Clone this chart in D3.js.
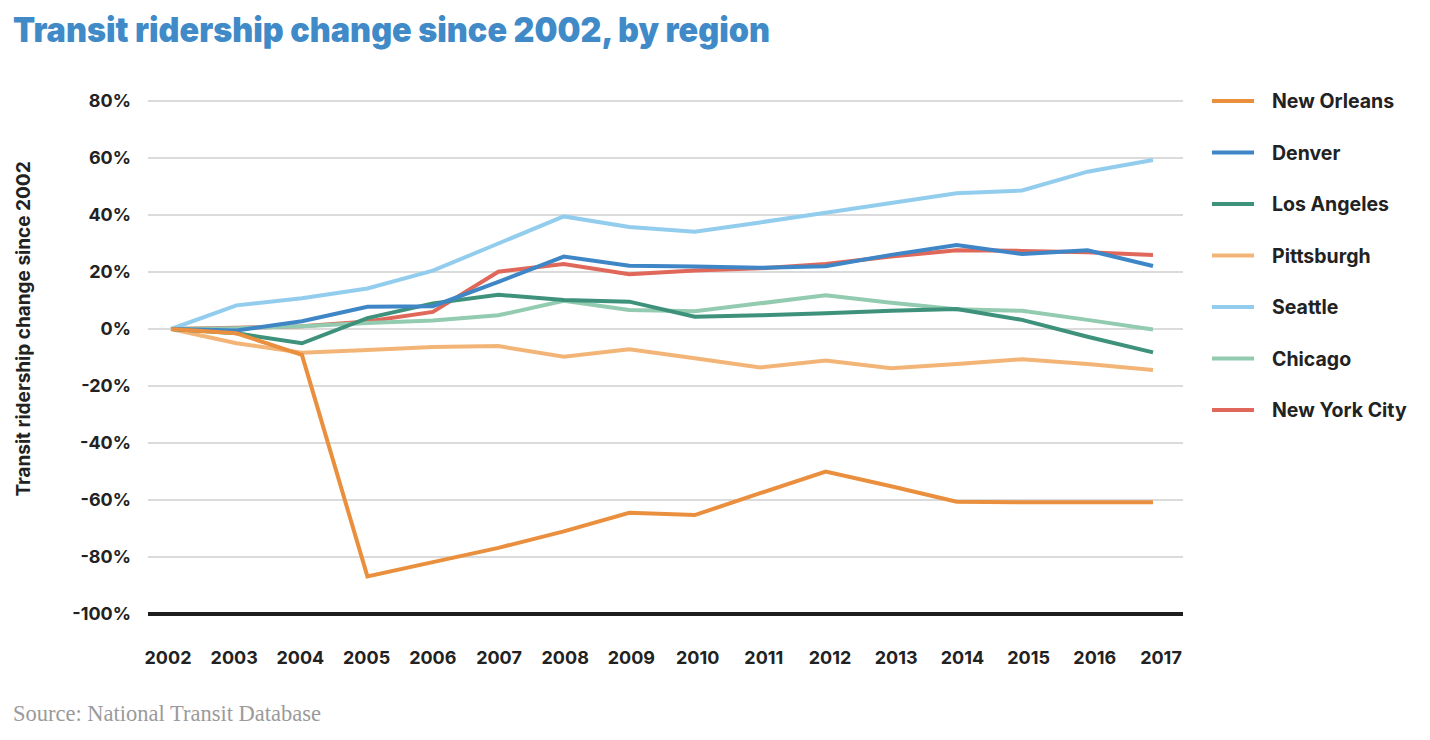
<!DOCTYPE html>
<html>
<head>
<meta charset="utf-8">
<script src="https://cdn.jsdelivr.net/npm/d3@7"></script>
<style>
  html, body { margin: 0; padding: 0; background: #fff; }
  svg { display: block; }
  text { font-family: "Inter", "Open Sans", sans-serif; }
</style>
</head>
<body>
<svg id="chart" width="1430" height="740"></svg>
<script>
const years = [2002,2003,2004,2005,2006,2007,2008,2009,2010,2011,2012,2013,2014,2015,2016,2017];
const seriesNames = ["New Orleans","Denver","Los Angeles","Pittsburgh","Seattle","Chicago","New York City"];
const newOrleans = [0,-1.5,-9.1,-86.8,-81.8,-76.8,-71,-64.5,-65.3,-57.6,-50,-55.2,-60.6,-60.8,-60.8,-60.8];
const denver     = [0,-0.5,2.7,7.8,8,16.5,25.4,22.2,21.9,21.5,22,26,29.5,26.3,27.6,22.1];
const losAngeles = [0,-1.5,-5,3.8,9,12,10.2,9.6,4.3,4.8,5.5,6.4,7,3.2,-2.7,-8.2];
const pittsburgh = [0,-5,-8.3,-7.4,-6.3,-6,-9.7,-7.1,-10.3,-13.5,-11.1,-13.8,-12.3,-10.6,-12.3,-14.4];
const seattle    = [0,8.3,10.8,14.2,20.5,30,39.5,35.8,34.1,37.4,40.8,44.2,47.6,48.6,55.2,59.3];
const chicago    = [0,0.3,1,2.1,3,4.8,9.9,6.7,6.2,9,11.8,9.2,6.9,6.4,3.2,-0.2];
const newYork    = [0,0.4,1,2.6,6,20.1,22.8,19.2,20.5,21.3,22.8,25.4,27.6,27.4,26.9,26];
const seriesValues = [newOrleans, denver, losAngeles, pittsburgh, seattle, chicago, newYork];
const colors = ["#e98f3e","#3f86c6","#3e917b","#f3b577","#93cdee","#93cbb1","#e0685a"];
const yTicks = [80,60,40,20,0,-20,-40,-60,-80,-100];

const svg = d3.select("#chart");

// scales
const x = d3.scaleLinear().domain([2002, 2017]).range([171, 1153]);
const xLabel = d3.scaleLinear().domain([2002, 2017]).range([168, 1161]);
const y = d3.scaleLinear().domain([-100, 80]).range([614, 101]);
const gridX0 = 148, gridX1 = 1183;

// title
const title = svg.append("text")
  .attr("x", 13).attr("y", 42)
  .attr("fill", "#418ac8")
  .style("font-size", "34px").style("font-weight", 900)
  .text("Transit ridership change since 2002, by region");
title.attr("textLength", 757).attr("lengthAdjust", "spacingAndGlyphs");

// gridlines
svg.append("g").selectAll("line")
  .data(yTicks.filter(d => d !== -100))
  .join("line")
  .attr("x1", gridX0).attr("x2", gridX1)
  .attr("y1", d => y(d)).attr("y2", d => y(d))
  .attr("stroke", "#cfcfcf").attr("stroke-width", 1.6);

// baseline at -100%
svg.append("line")
  .attr("x1", gridX0).attr("x2", gridX1)
  .attr("y1", y(-100)).attr("y2", y(-100))
  .attr("stroke", "#1e1e1e").attr("stroke-width", 4);

// y tick labels
svg.append("g").selectAll("text")
  .data(yTicks).join("text")
  .attr("x", 131).attr("y", d => y(d))
  .attr("dy", "0.36em")
  .attr("text-anchor", "end")
  .attr("fill", "#222")
  .style("font-size", "18px").style("font-weight", 700)
  .text(d => d + "%");

// x tick labels
svg.append("g").selectAll("text")
  .data(years).join("text")
  .attr("x", d => xLabel(d)).attr("y", 664)
  .attr("text-anchor", "middle")
  .attr("fill", "#222")
  .style("font-size", "18px").style("font-weight", 700)
  .text(d => d);

// y axis title
svg.append("text")
  .attr("transform", "translate(30,329) rotate(-90)")
  .attr("text-anchor", "middle")
  .attr("fill", "#222")
  .style("font-size", "19px").style("font-weight", 700)
  .text("Transit ridership change since 2002");

// lines
const line = d3.line().x(d => x(d[0])).y(d => y(d[1]));
const drawOrder = [6,5,4,3,2,1,0];
svg.append("g").selectAll("path")
  .data(drawOrder).join("path")
  .attr("d", i => line(years.map((yr, k) => [yr, seriesValues[i][k]])))
  .attr("fill", "none")
  .attr("stroke", i => colors[i])
  .attr("stroke-width", 4)
  .attr("stroke-linejoin", "miter");

// legend
const legend = svg.append("g").selectAll("g")
  .data(seriesNames).join("g")
  .attr("transform", (d, i) => `translate(1212,${101 + i * 51.5})`);
legend.append("line")
  .attr("x1", 0).attr("x2", 42).attr("y1", 0).attr("y2", 0)
  .attr("stroke", (d, i) => colors[i]).attr("stroke-width", 4);
legend.append("text")
  .attr("x", 60).attr("y", 0).attr("dy", "0.36em")
  .attr("fill", "#222")
  .style("font-size", "19.5px").style("font-weight", 700)
  .text(d => d);

// source
svg.append("text")
  .attr("x", 13).attr("y", 721)
  .attr("fill", "#9a9a9a")
  .style("font-family", "'Liberation Serif', serif")
  .style("font-size", "22.5px")
  .text("Source: National Transit Database");
</script>
</body>
</html>
